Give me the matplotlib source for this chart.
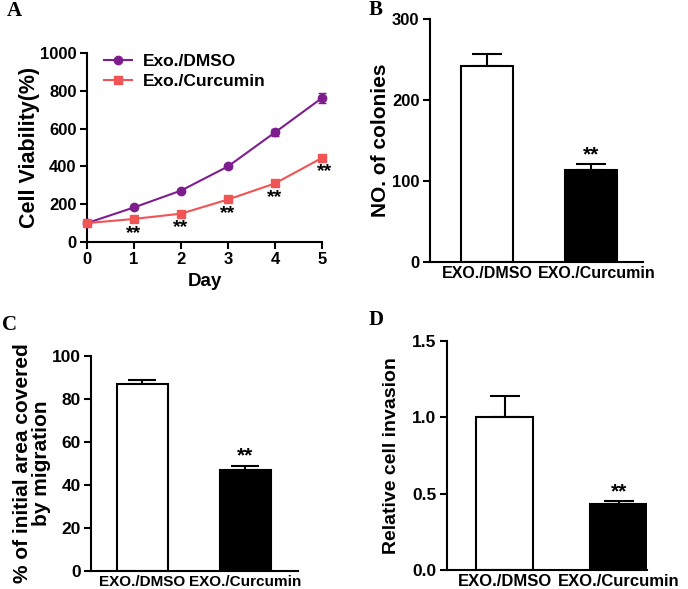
import matplotlib
matplotlib.use("Agg")
import matplotlib.pyplot as plt
from matplotlib.lines import Line2D
import matplotlib.transforms as mtransforms
import numpy as np

plt.rcParams['font.family'] = ['Liberation Sans', 'DejaVu Sans']
plt.rcParams['font.weight'] = 'bold'

# Panel A data
days = [0, 1, 2, 3, 4, 5]
dmso_viab = [100, 183, 272, 400, 580, 762]
dmso_err = [8, 8, 8, 8, 20, 25]
curc_viab = [100, 122, 150, 225, 310, 445]
curc_err = [8, 8, 15, 8, 10, 10]
series_names = ["Exo./DMSO", "Exo./Curcumin"]

# Bar panels
groups = ["EXO./DMSO", "EXO./Curcumin"]
colonies = [242, 114]
colonies_err = [15, 7]
migration = [87, 47]
migration_err = [2, 2]
invasion = [1.0, 0.43]
invasion_err = [0.14, 0.02]

W, H = 688, 589
fig = plt.figure(figsize=(W/100, H/100), dpi=100)

def ax_px(x0, x1, ytop, ybot):
    return fig.add_axes([x0/W, 1-ybot/H, (x1-x0)/W, (ybot-ytop)/H])

def style(ax, tick_fs=12):
    for s in ['top', 'right']:
        ax.spines[s].set_visible(False)
    for s in ['left', 'bottom']:
        ax.spines[s].set_linewidth(1.5)
    ax.tick_params(width=1.5, length=5, labelsize=tick_fs, direction='out', pad=2.5)
    for lab in ax.get_xticklabels() + ax.get_yticklabels():
        lab.set_fontweight('bold')

# Panel A
axA = ax_px(87, 322, 53, 242)
purple = '#7E1E8E'
red = '#F05454'
axA.errorbar(days, dmso_viab, yerr=dmso_err, color=purple, marker='o', ms=6,
             lw=1.5, capsize=3, elinewidth=1.5, zorder=3)
axA.errorbar(days, curc_viab, yerr=curc_err, color=red, marker='s', ms=6,
             lw=1.5, capsize=3, elinewidth=1.5, zorder=3)
axA.set_xlim(0, 5)
axA.set_ylim(0, 1000)
axA.set_xticks(days)
axA.set_yticks([0, 200, 400, 600, 800, 1000])
axA.set_xlabel("Day", fontsize=13.5, fontweight='bold', labelpad=4)
axA.set_ylabel("Cell Viability(%)", fontsize=15.5, fontweight='bold')
axA.yaxis.set_label_coords(-0.2, 0.5)
for d, v in zip(days[1:], curc_viab[1:]):
    axA.text(d + (0.05 if d == 5 else 0), v - 30, "**", ha='center', va='top',
             fontsize=14, fontweight='bold')
handles = [Line2D([0], [0], color=purple, marker='o', ms=6, lw=1.5),
           Line2D([0], [0], color=red, marker='s', ms=6, lw=1.5)]
axA.legend(handles, series_names, loc='upper left', bbox_to_anchor=(0.03, 1.05), frameon=False,
           handlelength=1.6, handletextpad=0.6, borderaxespad=0.2, labelspacing=0.25,
           prop={'weight': 'bold', 'size': 12.5})
style(axA, 12)
for line in axA.get_lines():
    line.set_clip_on(False)

def bar_panel(ax, vals, errs, ylim, yticks, ylabel, xlim, ylabel_fs, tick_fs, cat_fs,
              label_x, ticklabels=None, capsize=10, cat_shift=0):
    x = np.arange(len(groups))
    ax.bar(x, vals, width=0.5, color=['white', 'black'], edgecolor='black', linewidth=1.5, zorder=2)
    ax.errorbar(x, vals, yerr=[[0, 0], errs], fmt='none', ecolor='black',
                elinewidth=1.5, capsize=capsize, capthick=1.5, zorder=1)
    ax.set_xlim(*xlim)
    ax.set_ylim(*ylim)
    ax.set_yticks(yticks)
    if ticklabels is not None:
        ax.set_yticklabels(ticklabels)
    ax.set_xticks(x)
    ax.set_xticklabels(groups)
    ax.set_ylabel(ylabel, fontsize=ylabel_fs, fontweight='bold')
    ax.yaxis.set_label_coords(label_x, 0.5)
    ax.text(1, vals[1] + errs[1], "**", ha='center', va='bottom', fontsize=15, fontweight='bold')
    style(ax, tick_fs)
    ax.tick_params(axis='x', length=0, pad=3)
    for lab in ax.get_xticklabels():
        lab.set_fontsize(cat_fs)
    if cat_shift:
        lab = ax.get_xticklabels()[1]
        lab.set_transform(lab.get_transform() +
                          mtransforms.ScaledTranslation(cat_shift/100, 0, fig.dpi_scale_trans))

# Panel B
axB = ax_px(430, 643, 19, 262)
bar_panel(axB, colonies, colonies_err, (0, 300), [0, 100, 200, 300], "NO. of colonies",
          (-0.548, 1.5), ylabel_fs=15, tick_fs=12, cat_fs=11.5, label_x=-0.19,
          capsize=11, cat_shift=6)

# Panel C
axC = ax_px(91, 298, 356, 571)
bar_panel(axC, migration, migration_err, (0, 100), [0, 20, 40, 60, 80, 100],
          "% of initial area covered\nby migration", (-0.5, 1.51),
          ylabel_fs=15, tick_fs=12.5, cat_fs=11, label_x=-0.195, capsize=10)
axC.yaxis.label.set_linespacing(1.0)

# Panel D
axD = ax_px(447, 647, 341, 570)
bar_panel(axD, invasion, invasion_err, (0, 1.5), [0, 0.5, 1.0, 1.5], "Relative cell invasion",
          (-0.507, 1.25), ylabel_fs=14, tick_fs=12.5, cat_fs=12, label_x=-0.235,
          ticklabels=["0.0", "0.5", "1.0", "1.5"], capsize=11)

# Panel letters
for lab, (px, py) in zip("ABCD", [(7, 11), (369, 10), (2, 325), (369, 320)]):
    fig.text(px/W, 1-py/H, lab, fontsize=15, fontweight='bold',
             family=['Liberation Serif', 'DejaVu Serif'], ha='left', va='center')

fig.savefig("out.png", dpi=100)
